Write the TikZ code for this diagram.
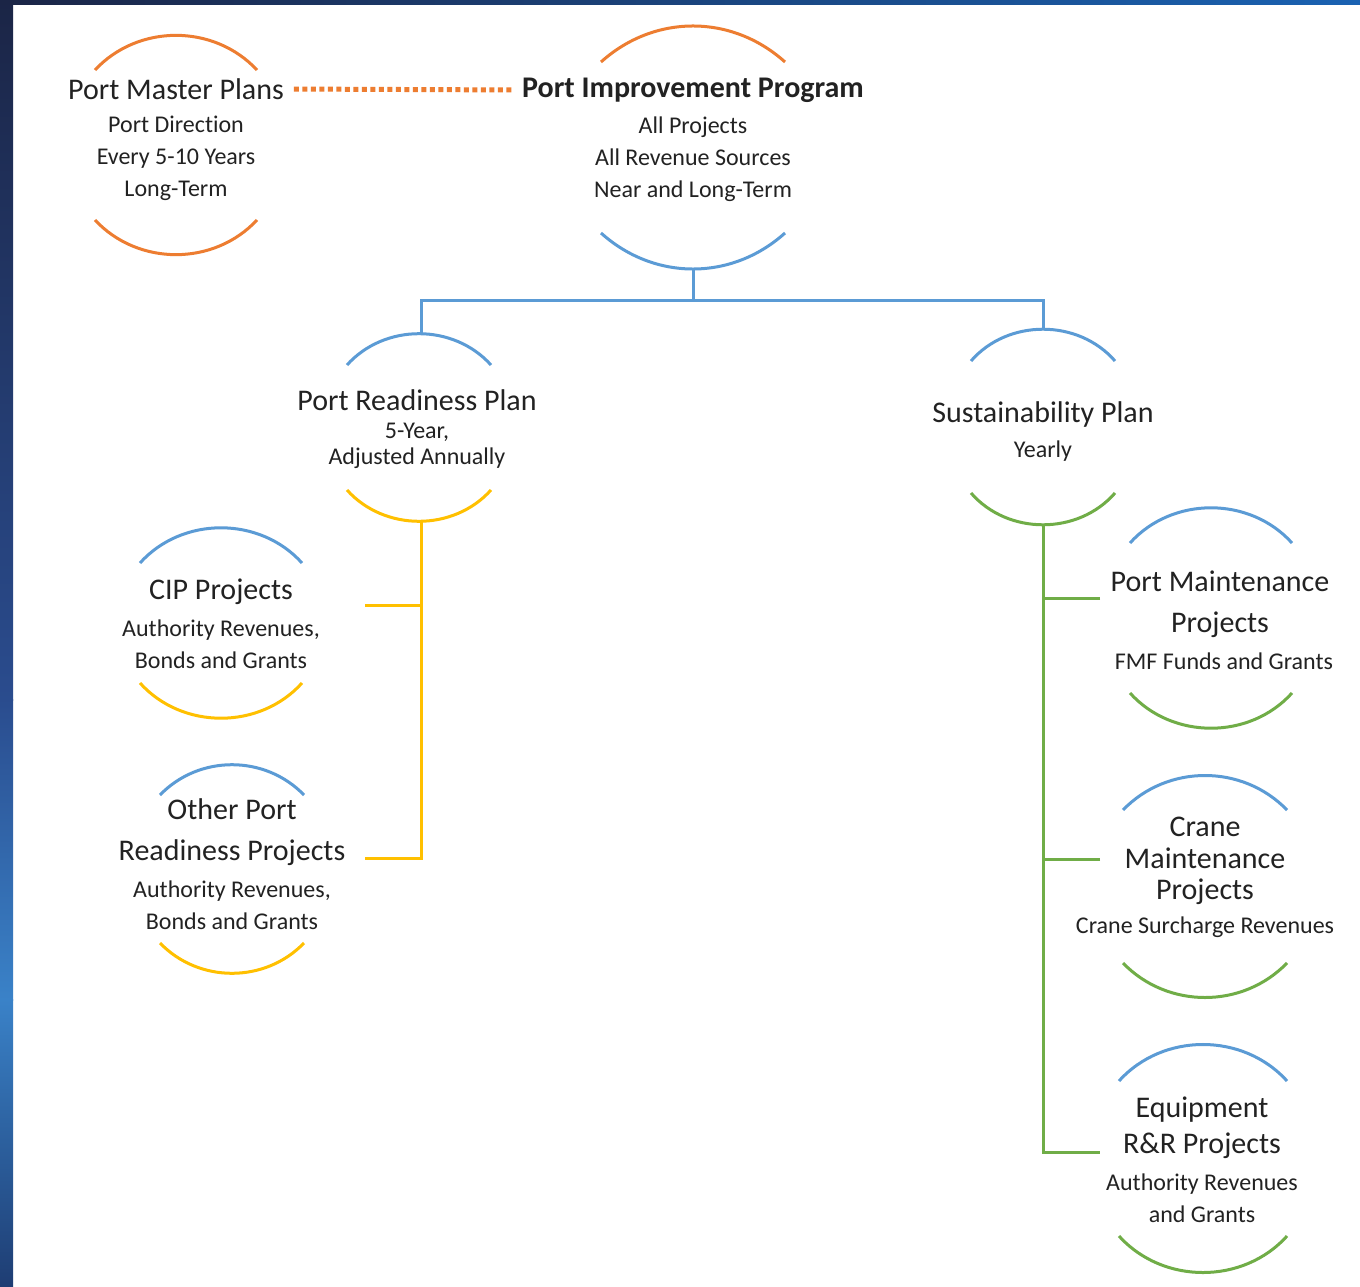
\documentclass[tikz,border=0pt]{standalone}
\usepackage{fontspec}
\setmainfont{Carlito}[Ligatures=NoCommon]
\usepackage{tikz}

\definecolor{PortOrange}{HTML}{ED7D31}
\definecolor{PortBlue}{HTML}{5B9BD5}
\definecolor{PortGold}{HTML}{FFC000}
\definecolor{PortGreen}{HTML}{70AD47}
\definecolor{InkGray}{HTML}{222222}
\definecolor{FrameNavy}{HTML}{1B2546}
\definecolor{FrameBlue}{HTML}{2A4C8E}
\definecolor{FrameLight}{HTML}{3A82C8}
\definecolor{FrameDeep}{HTML}{1E3D73}
\definecolor{FrameTop}{HTML}{1A62B2}

\begin{document}
\begin{tikzpicture}[x=1pt, y=-1pt,
  headline/.style ={font=\fontsize{30}{41}\selectfont, text=InkGray,
    align=center, inner sep=1pt},
  %
  subline/.style ={font=\fontsize{24}{32}\selectfont, text=InkGray,
    align=center, inner sep=1pt},
  %
  ring/.style ={line width=3pt},
  link/.style ={line width=3pt} ]

  \useasboundingbox (0,0) rectangle (1360,1287);

  % frame
  \fill[white] (0,0) rectangle (1360,1287);
  \shade[left color=FrameNavy, right color=FrameTop] (0,0) rectangle (1360,5);
  \shade[top color=FrameNavy, bottom color=FrameBlue] (0,0) rectangle (13,700);
  \shade[top color=FrameBlue, bottom color=FrameLight] (0,699) rectangle (13,1000);
  \shade[top color=FrameLight, bottom color=FrameDeep] (0,999) rectangle (13,1287);

  \begin{scope}
    %%%%%%%%%%%%%%%%%%%%%%%%%%%%%%%
    \node [headline](pmpHead) at (176,89) {Port Master Plans};
    \node [subline](pmpSub) at (176,158) {Port Direction\\Every 5-10 Years\\Long-Term};
    \node [headline](pipHead) at (693,90) {\bfseries Port Improvement Program};
    \node [subline](pipSub) at (693,159) {All Projects\\All Revenue Sources\\Near and Long-Term};
    %%%%%%%%%%%%%%%%%%%%%%%%%%%%%%%
    \node [headline](prpHead) at (417,400) {Port Readiness Plan};
    \node [subline, font=\fontsize{24}{26}\selectfont](prpSub) at (417,446) {5-Year,\\Adjusted Annually};
    \node [headline](spHead) at (1043,414) {Sustainability Plan};
    \node [subline](spSub) at (1043,451) {Yearly};
    %%%%%%%%%%%%%%%%%%%%%%%%%%%%%%%
    \node [headline](cipHead) at (221,592) {CIP Projects};
    \node [subline](cipSub) at (221,644) {Authority Revenues,\\Bonds and Grants};
    \node [headline](oprpHead) at (232,832) {Other Port\\Readiness Projects};
    \node [subline](oprpSub) at (232,905) {Authority Revenues,\\Bonds and Grants};
    %%%%%%%%%%%%%%%%%%%%%%%%%%%%%%%
    \node [headline](pmHead) at (1220,604) {Port Maintenance\\Projects};
    \node [subline](pmSub) at (1224,661) {FMF Funds and Grants};
    \node [headline, font=\fontsize{30}{31.5}\selectfont](craneHead) at (1205,861) {Crane\\Maintenance\\Projects};
    \node [subline](craneSub) at (1205,927) {Crane Surcharge Revenues};
    \node [headline, font=\fontsize{30}{36}\selectfont](equipHead) at (1202,1128) {Equipment\\R\&R Projects};
    \node [subline](equipSub) at (1202,1198) {Authority Revenues\\and Grants};
  \end{scope}

  \begin{scope}
    % rings
    \draw [ring, PortOrange] (95,70) to[bend left=47] (257,70);
    \draw [ring, PortOrange] (95,220) to[bend right=47] (257,220);
    \draw [ring, PortOrange] (601,62) to[bend left=42] (785,62);
    \draw [ring, PortBlue] (601,233) to[bend right=42] (785,233);
    \draw [ring, PortBlue] (347,365) to[bend left=48] (491,365);
    \draw [ring, PortGold] (347,490) to[bend right=48] (491,490);
    \draw [ring, PortBlue] (971,361) to[bend left=49] (1115,361);
    \draw [ring, PortGreen] (971,493) to[bend right=49] (1115,493);
    \draw [ring, PortBlue] (140,563) to[bend left=48] (302,563);
    \draw [ring, PortGold] (140,683) to[bend right=48] (302,683);
    \draw [ring, PortBlue] (160,795) to[bend left=46] (304,795);
    \draw [ring, PortGold] (160,943) to[bend right=46] (304,943);
    \draw [ring, PortBlue] (1130,543) to[bend left=48] (1292,543);
    \draw [ring, PortGreen] (1130,693) to[bend right=48] (1292,693);
    \draw [ring, PortBlue] (1123,810) to[bend left=46] (1287,810);
    \draw [ring, PortGreen] (1123,963) to[bend right=46] (1287,963);
    \draw [ring, PortBlue] (1119,1081) to[bend left=48] (1287,1081);
    \draw [ring, PortGreen] (1119,1236) to[bend right=48] (1287,1236);
  \end{scope}

  \begin{scope}
    \coordinate (pipBot) at (693,268);
    \coordinate (bar) at (693,300);
    \coordinate (prpTop) at (421,333);
    \coordinate (spTop) at (1043,328);
    \coordinate (prpBot) at (421,522);
    \coordinate (spBot) at (1043,526);
    \coordinate (cipJoin) at (365,605);
    \coordinate (oprpJoin) at (365,858);
    \coordinate (pmJoin) at (1100,598);
    \coordinate (craneJoin) at (1100,859);
    \coordinate (equipJoin) at (1100,1152);

    \draw [PortOrange, line width=5pt, dash pattern=on 5pt off 3.5pt,
      shorten <=9pt, shorten >=9pt] (pmpHead.east) -- (pipHead.west);
    \draw [link, PortBlue] (pipBot) -- (bar);
    \draw [link, PortBlue] (prpTop) |- (bar) -| (spTop);
    \draw [link, PortGold] (prpBot) |- (oprpJoin);
    \draw [link, PortGold] (cipJoin) -- (cipJoin -| prpBot);
    \draw [link, PortGreen] (spBot) |- (equipJoin);
    \draw [link, PortGreen] (pmJoin) -- (pmJoin -| spBot);
    \draw [link, PortGreen] (craneJoin) -- (craneJoin -| spBot);
  \end{scope}

\end{tikzpicture}
\end{document}
